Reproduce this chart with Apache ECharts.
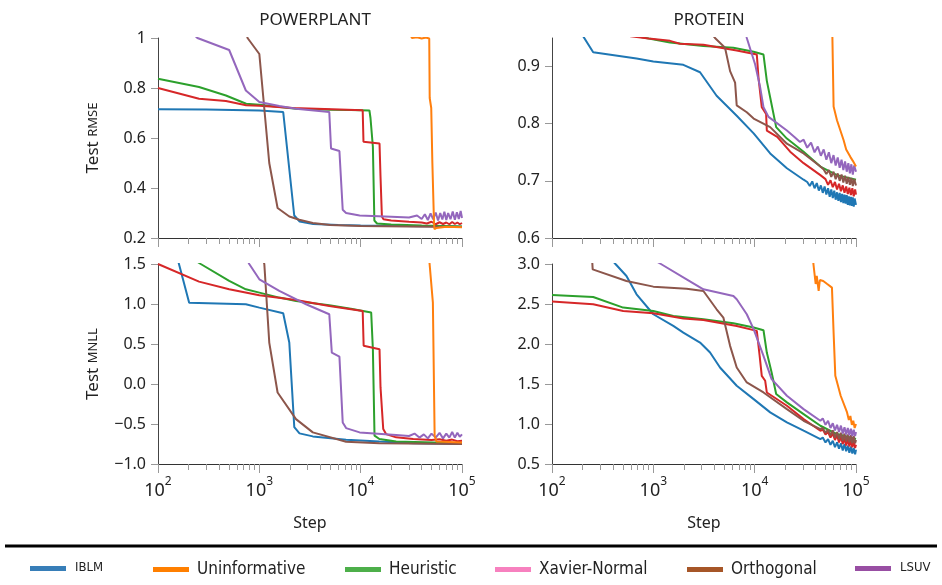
<!DOCTYPE html>
<html><head><meta charset="utf-8">
<script src="https://cdn.jsdelivr.net/npm/echarts@6/dist/echarts.min.js"></script>
<style>html,body{margin:0;padding:0;background:#fff}#c{width:942px;height:585px}</style>
</head><body><div id="c"></div>
<script>
// ---------- DATA ----------
const seriesNames = ['IBLM','Uninformative','Heuristic','Xavier-Normal','Orthogonal','LSUV'];
const panelTitles = ['POWERPLANT','PROTEIN'];
const majorSteps = [100,1000,10000,100000];
const minorSteps = [200,300,400,500,600,700,800,900,2000,3000,4000,5000,6000,7000,8000,9000,20000,30000,40000,50000,60000,70000,80000,90000];
const rmseTicksPP = [0.2,0.4,0.6,0.8,1];
const rmseTicksPR = [0.6,0.7,0.8,0.9];
const mnllTicksPP = [-1,-0.5,0,0.5,1,1.5];
const mnllTicksPR = [0.5,1,1.5,2,2.5,3];

// POWERPLANT – Test RMSE
const ppRmseIblm = [[100,0.715],[300,0.714],[1000,0.71],[1720,0.704],[2210,0.29],[2500,0.266],[3400,0.256],[6000,0.252],[10000,0.25],[20000,0.249],[40000,0.247],[60000,0.248],[100000,0.245]];
const ppRmseUninf = [[100,3],[30000,1.03],[32000,1.0],[36000,1.003],[40000,0.998],[44000,1.002],[47500,0.998],[48000,0.76],[49700,0.72],[51000,0.5],[52900,0.265],[53500,0.235],[56000,0.24],[70000,0.245],[100000,0.243]];
const ppRmseHeur = [[100,0.837],[254,0.804],[468,0.77],[741,0.737],[1000,0.733],[2300,0.717],[5000,0.713],[8000,0.712],[12200,0.71],[12500,0.68],[13200,0.565],[13650,0.27],[14500,0.258],[20000,0.254],[40000,0.25],[100000,0.246]];
const ppRmseXav = [[100,0.8],[254,0.757],[468,0.748],[741,0.731],[1000,0.729],[2140,0.72],[5250,0.715],[10470,0.711],[10660,0.585],[15350,0.578],[15700,0.445],[16200,0.286],[16800,0.275],[20000,0.27],[30000,0.265],[40000,0.262],[45000,0.258],[50000,0.265],[55000,0.255],[60000,0.263],[65000,0.256],[70000,0.262],[75000,0.255],[80000,0.264],[85000,0.256],[90000,0.262],[95000,0.255],[100000,0.26]];
const ppRmseOrth = [[100,2.5],[765,1.0],[1000,0.936],[1253,0.5],[1514,0.32],[1977,0.286],[2480,0.273],[3370,0.26],[5000,0.252],[10000,0.248],[30000,0.246],[100000,0.244]];
const ppRmseLsuv = [[100,1.15],[245,1.0],[504,0.952],[736,0.79],[1000,0.744],[1574,0.728],[2300,0.717],[4900,0.704],[5100,0.558],[6170,0.548],[6650,0.313],[7180,0.3],[9770,0.29],[20000,0.285],[30000,0.282],[36000,0.29],[40000,0.276],[43000,0.295],[46000,0.272],[49000,0.298],[52000,0.275],[55000,0.302],[58000,0.27],[61000,0.3],[64000,0.274],[67000,0.305],[70000,0.272],[73000,0.3],[77000,0.275],[81000,0.306],[85000,0.273],[89000,0.303],[93000,0.276],[97000,0.308],[100000,0.28]];

// PROTEIN – Test RMSE
const prRmseIblm = [[100,1.04],[255,0.925],[683,0.914],[1000,0.909],[1977,0.903],[2890,0.89],[4210,0.849],[6650,0.814],[9770,0.783],[14230,0.748],[20800,0.722],[30400,0.702],[33000,0.698],[35000,0.691],[37000,0.699],[39000,0.687],[41000,0.696],[43000,0.683],[45000,0.692],[47000,0.679],[49000,0.69],[51000,0.676],[53000,0.687],[55000,0.672],[57000,0.685],[59000,0.67],[61000,0.683],[63000,0.667],[65000,0.68],[67000,0.665],[69000,0.679],[71000,0.663],[73000,0.677],[75000,0.661],[77000,0.676],[79000,0.66],[81000,0.675],[83000,0.658],[85000,0.673],[87000,0.657],[89000,0.672],[91000,0.656],[93000,0.671],[95000,0.655],[97000,0.669],[100000,0.658]];
const prRmseUninf = [[100,3],[57000,1.2],[58500,0.95],[60100,0.83],[64900,0.806],[75500,0.771],[80000,0.755],[87900,0.742],[93000,0.735],[100000,0.725]];
const prRmseHeur = [[100,1.0],[600,0.955],[900,0.949],[1460,0.942],[3120,0.936],[6170,0.933],[9770,0.926],[12220,0.921],[13180,0.875],[14230,0.846],[16300,0.794],[20800,0.774],[30400,0.751],[44500,0.725],[64900,0.71],[100000,0.702]];
const prRmseXav = [[100,1.0],[600,0.953],[900,0.949],[1460,0.945],[1830,0.94],[3120,0.938],[6650,0.928],[10500,0.921],[10900,0.881],[11750,0.829],[12970,0.817],[13180,0.788],[16700,0.777],[22400,0.751],[30400,0.731],[44500,0.71],[50000,0.703],[53000,0.693],[56000,0.701],[59000,0.689],[62000,0.698],[65000,0.685],[68000,0.695],[71000,0.682],[74000,0.692],[77000,0.679],[80000,0.69],[83000,0.677],[86000,0.688],[89000,0.675],[92000,0.687],[95000,0.673],[98000,0.685],[100000,0.676]];
const prRmseOrth = [[100,1.5],[3000,0.98],[4060,0.95],[5100,0.933],[5720,0.892],[6410,0.872],[6650,0.832],[8360,0.82],[9770,0.809],[14230,0.794],[20800,0.765],[30400,0.748],[44500,0.725],[48000,0.72],[51000,0.712],[54000,0.719],[57000,0.707],[60000,0.716],[63000,0.703],[66000,0.713],[69000,0.7],[72000,0.711],[75000,0.697],[78000,0.709],[81000,0.695],[84000,0.707],[87000,0.693],[90000,0.705],[93000,0.691],[96000,0.703],[100000,0.692]];
const prRmseLsuv = [[100,1.5],[7500,1.0],[8360,0.95],[10100,0.904],[11320,0.864],[12220,0.829],[13700,0.812],[20800,0.788],[25000,0.776],[28000,0.768],[30400,0.772],[33000,0.758],[36000,0.767],[39000,0.75],[42000,0.76],[45000,0.744],[48000,0.755],[51000,0.737],[54000,0.75],[57000,0.731],[60000,0.745],[63000,0.727],[66000,0.741],[69000,0.723],[72000,0.737],[75000,0.719],[78000,0.734],[81000,0.716],[84000,0.731],[87000,0.713],[90000,0.729],[93000,0.711],[96000,0.727],[100000,0.716]];

// POWERPLANT – Test MNLL
const ppMnllIblm = [[100,2.5],[161,1.5],[203,1.017],[736,0.997],[1000,0.955],[1720,0.884],[1975,0.518],[2213,-0.54],[2490,-0.617],[3370,-0.655],[7180,-0.696],[15300,-0.72],[33000,-0.74],[100000,-0.75]];
const ppMnllUninf = [[100,5],[47000,1.6],[47900,1.5],[51600,1.017],[53700,-0.646],[56000,-0.72],[100000,-0.73]];
const ppMnllHeur = [[100,1.85],[264,1.5],[504,1.288],[736,1.184],[1000,1.142],[1574,1.08],[2300,1.038],[4900,0.984],[8000,0.94],[12700,0.893],[13200,0.435],[13700,-0.646],[15300,-0.688],[22400,-0.72],[100000,-0.74]];
const ppMnllXav = [[100,1.5],[254,1.28],[504,1.184],[1000,1.109],[2300,1.05],[4900,0.976],[10470,0.913],[10700,0.477],[15350,0.435],[15700,-0.043],[16700,-0.563],[17800,-0.626],[22400,-0.667],[33000,-0.688],[50000,-0.7],[60000,-0.69],[70000,-0.71],[80000,-0.695],[90000,-0.715],[100000,-0.71]];
const ppMnllOrth = [[100,6],[1120,1.5],[1253,0.518],[1514,-0.106],[2300,-0.439],[3370,-0.605],[7180,-0.721],[15300,-0.742],[100000,-0.75]];
const ppMnllLsuv = [[100,3.2],[300,2.6],[795,1.5],[1000,1.309],[1574,1.163],[2890,0.997],[4900,0.872],[5190,0.393],[6170,0.343],[6650,-0.48],[7180,-0.551],[9770,-0.605],[22400,-0.638],[30000,-0.65],[34000,-0.62],[38000,-0.67],[42000,-0.63],[46000,-0.68],[50000,-0.62],[55000,-0.67],[60000,-0.61],[65000,-0.68],[70000,-0.62],[75000,-0.67],[80000,-0.6],[85000,-0.67],[90000,-0.61],[95000,-0.66],[100000,-0.63]];

// PROTEIN – Test MNLL
const prMnllIblm = [[100,3.9],[423,3.0],[543,2.85],[683,2.621],[1000,2.372],[1574,2.226],[1977,2.143],[2890,2.018],[3630,1.893],[4550,1.706],[6650,1.478],[9770,1.311],[14230,1.145],[20800,1.02],[30400,0.916],[44500,0.812],[47000,0.83],[50000,0.77],[53000,0.81],[56000,0.74],[59000,0.79],[62000,0.71],[65000,0.77],[68000,0.69],[71000,0.76],[74000,0.67],[77000,0.75],[80000,0.66],[83000,0.73],[86000,0.64],[89000,0.72],[92000,0.63],[95000,0.7],[98000,0.62],[100000,0.68]];
const prMnllUninf = [[100,8],[37000,3.3],[38000,3.0],[40000,2.75],[41000,2.85],[42800,2.663],[44000,2.8],[47500,2.788],[52000,2.75],[57900,2.705],[60100,2.143],[62500,1.602],[70600,1.353],[81600,1.145],[85000,1.05],[88000,1.1],[91000,0.99],[94000,1.04],[97000,0.95],[100000,1.0]];
const prMnllHeur = [[100,2.613],[255,2.588],[504,2.455],[1000,2.413],[1574,2.351],[3120,2.309],[6170,2.26],[9770,2.206],[12220,2.172],[13180,1.893],[14700,1.644],[16300,1.374],[20800,1.27],[30400,1.124],[44500,0.978],[64900,0.874],[100000,0.812]];
const prMnllXav = [[100,2.53],[255,2.497],[504,2.413],[1000,2.384],[1977,2.318],[3120,2.301],[6650,2.226],[10500,2.164],[11200,1.852],[11750,1.602],[12700,1.54],[13180,1.394],[20800,1.228],[30400,1.061],[44500,0.916],[47000,0.93],[50000,0.87],[53000,0.9],[56000,0.83],[59000,0.88],[62000,0.8],[65000,0.86],[68000,0.77],[71000,0.84],[74000,0.75],[77000,0.82],[80000,0.73],[83000,0.81],[86000,0.72],[89000,0.8],[92000,0.71],[95000,0.79],[98000,0.7],[100000,0.74]];
const prMnllOrth = [[100,3.6],[249,3.05],[252,2.933],[543,2.788],[1000,2.717],[2130,2.692],[3120,2.663],[4210,2.434],[4910,2.33],[5720,1.977],[6650,1.706],[8360,1.519],[12220,1.394],[20800,1.186],[30400,1.04],[44500,0.937],[47000,0.95],[50000,0.89],[53000,0.93],[56000,0.86],[59000,0.92],[62000,0.83],[65000,0.9],[68000,0.81],[71000,0.89],[74000,0.79],[77000,0.88],[80000,0.78],[83000,0.87],[86000,0.77],[89000,0.86],[92000,0.76],[95000,0.85],[98000,0.76],[100000,0.8]];
const prMnllLsuv = [[100,3.8],[1188,3.0],[2130,2.809],[3120,2.684],[6170,2.6],[6650,2.559],[8360,2.372],[9770,2.185],[12220,1.852],[14700,1.561],[20800,1.353],[30400,1.186],[44500,1.04],[47000,1.07],[50000,0.99],[53000,1.04],[56000,0.95],[59000,1.01],[62000,0.92],[65000,0.99],[68000,0.9],[71000,0.98],[74000,0.88],[77000,0.96],[80000,0.87],[83000,0.95],[86000,0.86],[89000,0.94],[92000,0.85],[95000,0.93],[98000,0.85],[100000,0.9]];

// ---------- STYLE ----------
const lineColors = ['#1f77b4','#ff7f0e','#2ca02c','#d62728','#8c564b','#9467bd'];
const legendColors = ['#377eb8','#ff7f00','#4daf4a','#f781bf','#a65628','#984ea3'];
const legendLefts = [25,148,340,490,682,850];
const FONT = "'Noto Sans', 'Open Sans', sans-serif";
const LFONT = "'DejaVu Sans Condensed', 'DejaVu Sans', sans-serif";
const drawOrder = [0,2,3,4,5,1];

const panels = [
  {data:[ppRmseIblm,ppRmseUninf,ppRmseHeur,ppRmseXav,ppRmseOrth,ppRmseLsuv]},
  {data:[prRmseIblm,prRmseUninf,prRmseHeur,prRmseXav,prRmseOrth,prRmseLsuv]},
  {data:[ppMnllIblm,ppMnllUninf,ppMnllHeur,ppMnllXav,ppMnllOrth,ppMnllLsuv]},
  {data:[prMnllIblm,prMnllUninf,prMnllHeur,prMnllXav,prMnllOrth,prMnllLsuv]}
];

const grids = [
  {left:158, top:38, width:304, height:200},
  {left:552, top:38, width:304, height:200},
  {left:158, top:264, width:304, height:200},
  {left:552, top:264, width:304, height:200}
];

const xAxes = [];
grids.forEach((g, i) => {
  const bottomRow = i >= 2;
  xAxes.push({
    type:'log', logBase:10, gridIndex:i, min:100, max:100000, position:'bottom',
    axisLine:{show:true, onZero:false, lineStyle:{color:'#333', width:1}},
    axisTick:{show:true, length:9, customValues:majorSteps, lineStyle:{color:'#999'}},
    axisLabel:{show:bottomRow, customValues:majorSteps, margin:12,
      formatter: v => '{b|10}{s|' + Math.round(Math.log10(v)) + '}',
      rich:{b:{fontSize:18, fontFamily:FONT, color:'#222', verticalAlign:'bottom', lineHeight:24},
            s:{fontSize:12, fontFamily:FONT, color:'#222', verticalAlign:'top', lineHeight:14}}},
    splitLine:{show:false},
    name: bottomRow ? 'Step' : '', nameLocation:'middle', nameGap:51,
    nameTextStyle:{fontSize:16, fontFamily:FONT, color:'#222'}
  });
  xAxes.push({
    type:'log', logBase:10, gridIndex:i, min:100, max:100000, position:'bottom',
    axisLine:{show:false, onZero:false},
    axisTick:{show:true, length:6, customValues:minorSteps, lineStyle:{color:'#999'}},
    axisLabel:{show:false}, splitLine:{show:false}
  });
});

const yCommon = (i, min, max, interval, ticks, fmt, name) => ({
  type:'value', gridIndex:i, min:min, max:max, interval:interval,
  axisLine:{show:true, onZero:false, lineStyle:{color:'#444', width:1}},
  axisTick:{show:true, length:7, customValues:ticks, lineStyle:{color:'#999'}},
  axisLabel:{customValues:ticks, fontSize:16, fontFamily:FONT, color:'#222', margin:12, formatter:fmt},
  splitLine:{show:false},
  name:name, nameLocation:'middle', nameRotate:90, nameGap:56,
  nameTextStyle:{fontFamily:FONT, color:'#222', rich:{a:{fontSize:17,fontFamily:FONT,color:'#222'}, sc:{fontSize:13,fontFamily:FONT,color:'#222'}}}
});
const minus = s => s.replace('-', '\u2212');
const yAxes = [
  yCommon(0, 0.2, 1, 0.2, rmseTicksPP, v => Math.abs(v-1)<1e-9 ? '1' : v.toFixed(1), '{a|Test }{sc|RMSE}'),
  yCommon(1, 0.6, 0.95, 0.1, rmseTicksPR, v => v.toFixed(1), ''),
  yCommon(2, -1, 1.5, 0.5, mnllTicksPP, v => minus(v.toFixed(1)), '{a|Test }{sc|MNLL}'),
  yCommon(3, 0.5, 3, 0.5, mnllTicksPR, v => v.toFixed(1), '')
];

const series = [];
panels.forEach((p, i) => {
  drawOrder.forEach(k => {
    series.push({
      name: seriesNames[k], type:'line', xAxisIndex:i*2, yAxisIndex:i,
      data: p.data[k], showSymbol:false, symbol:'none', clip:true,
      lineStyle:{color:lineColors[k], width:2}, itemStyle:{color:lineColors[k]},
      emphasis:{disabled:true}, animation:false
    });
  });
});

const legends = seriesNames.map((n, k) => ({
  left:legendLefts[k], top:556, itemWidth:36, itemHeight:5, itemGap:0, icon:'rect',
  selectedMode:false,
  data:[{name:n, icon:'rect', itemStyle:{color:legendColors[k]}, lineStyle:{color:legendColors[k]}}],
  formatter: nm => (nm === 'IBLM' || nm === 'LSUV') ? '{sc|' + nm + '}' : '{t|' + nm + '}',
  textStyle:{fontFamily:LFONT, fontSize:17, color:'#222',
    rich:{t:{fontSize:17, fontFamily:LFONT, color:'#222', padding:[0,0,0,3], verticalAlign:'middle'},
          sc:{fontSize:13, fontFamily:LFONT, color:'#222', padding:[0,0,2,4], verticalAlign:'middle'}}}
}));

const option = {
  animation:false,
  title:[
    {text:panelTitles[0], left:310, top:7, textAlign:'center', textStyle:{fontSize:17, fontWeight:'normal', fontFamily:FONT, color:'#222'}},
    {text:panelTitles[1], left:704, top:7, textAlign:'center', textStyle:{fontSize:17, fontWeight:'normal', fontFamily:FONT, color:'#222'}}
  ],
  grid:grids,
  xAxis:xAxes,
  yAxis:yAxes,
  legend:legends,
  graphic:[{type:'line', shape:{x1:5, y1:546, x2:937, y2:546}, style:{stroke:'#000', lineWidth:3}}],
  series:series
};

const chart = echarts.init(document.getElementById('c'), null, {renderer:'canvas'});
chart.setOption(option);
</script></body></html>
